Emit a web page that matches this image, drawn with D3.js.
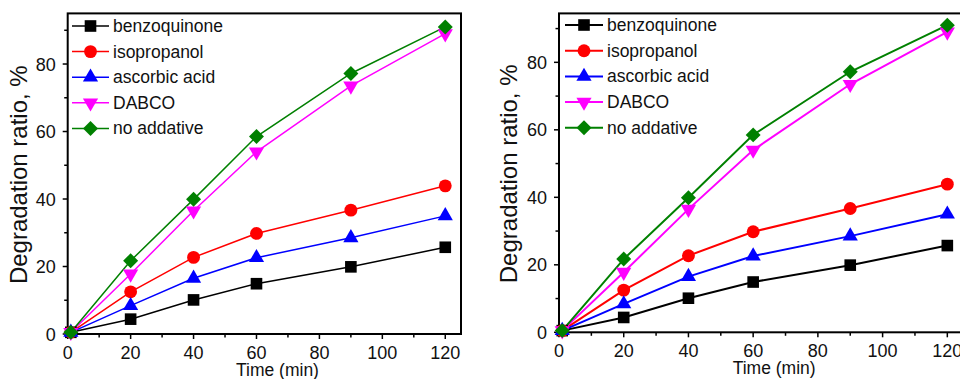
<!DOCTYPE html>
<html>
<head>
<meta charset="utf-8">
<script src="https://cdn.jsdelivr.net/npm/d3@7"></script>
<style>
  html, body { margin: 0; padding: 0; background: #fff; }
  svg { display: block; font-family: "Liberation Sans", Arial, sans-serif; }
</style>
</head>
<body>
<svg id="chart" width="960" height="379"></svg>
<script>
// data
const times = [1, 20, 40, 60, 90, 120];
const benzoquinone = [0.5, 4.4, 10.1, 14.9, 19.9, 25.7];
const isopropanol = [0.5, 12.5, 22.7, 29.8, 36.7, 43.9];
const ascorbicAcid = [0.5, 8.4, 16.5, 22.6, 28.5, 35.0];
const dabco = [0.5, 17.8, 36.5, 54.0, 73.5, 89.0];
const noAdditive = [0.5, 21.7, 39.9, 58.5, 77.2, 91.0];

const seriesNames = ['benzoquinone', 'isopropanol', 'ascorbic acid', 'DABCO', 'no addative'];
const seriesValues = [benzoquinone, isopropanol, ascorbicAcid, dabco, noAdditive];
const seriesColors = ['#000000', '#ff0000', '#0000ff', '#ff00ff', '#008000'];
const seriesShapes = ['square', 'circle', 'triangle', 'triangleDown', 'diamond'];

const xTicks = [0, 20, 40, 60, 80, 100, 120];
const xMinor = [10, 30, 50, 70, 90, 110];
const yTicks = [0, 20, 40, 60, 80];
const yMinor = [10, 30, 50, 70, 90];

const svg = d3.select('#chart');

// symbol path + extra rotation for each marker shape
const shapeDef = {
  square: { type: d3.symbolSquare, size: 135, rot: 0 },
  circle: { type: d3.symbolCircle, size: 130, rot: 0 },
  triangle: { type: d3.symbolTriangle, size: 100, rot: 0 },
  triangleDown: { type: d3.symbolTriangle, size: 100, rot: 180 },
  diamond: { type: d3.symbolSquare, size: 112, rot: 45 }
};

function placeMarker(sel, shape, cx, cy) {
  const s = shapeDef[shape];
  sel.attr('d', d3.symbol().type(s.type).size(s.size)())
    .attr('transform', `translate(${cx},${cy})` + (s.rot ? ` rotate(${s.rot})` : ''));
}

function drawPanel(p) {
  const x = d3.scaleLinear().domain([0, 125]).range([p.left, p.right]);
  const y = d3.scaleLinear().domain([0, p.yMax]).range([p.bottom, p.top]);
  const g = svg.append('g');

  // frame
  g.append('rect')
    .attr('x', x(0)).attr('y', y(p.yMax))
    .attr('width', x(125) - x(0)).attr('height', y(0) - y(p.yMax))
    .attr('fill', 'none').attr('stroke', '#000').attr('stroke-width', 2);

  // x axis ticks
  g.selectAll('.xt').data(xTicks).enter().append('line')
    .attr('x1', d => x(d)).attr('x2', d => x(d))
    .attr('y1', y(0)).attr('y2', y(0) + 5)
    .attr('stroke', '#000').attr('stroke-width', 1.5);
  g.selectAll('.xm').data(xMinor).enter().append('line')
    .attr('x1', d => x(d)).attr('x2', d => x(d))
    .attr('y1', y(0)).attr('y2', y(0) + 3.5)
    .attr('stroke', '#000').attr('stroke-width', 1.5);
  g.selectAll('.xl').data(xTicks).enter().append('text')
    .attr('x', d => x(d)).attr('y', y(0) + 25)
    .attr('text-anchor', 'middle').attr('font-size', 18).attr('fill', '#111')
    .text(d => d);

  // y axis ticks
  g.selectAll('.yt').data(yTicks).enter().append('line')
    .attr('x1', x(0) - 5).attr('x2', x(0))
    .attr('y1', d => y(d)).attr('y2', d => y(d))
    .attr('stroke', '#000').attr('stroke-width', 1.5);
  g.selectAll('.ym').data(yMinor).enter().append('line')
    .attr('x1', x(0) - 3.5).attr('x2', x(0))
    .attr('y1', d => y(d)).attr('y2', d => y(d))
    .attr('stroke', '#000').attr('stroke-width', 1.5);
  g.selectAll('.yl').data(yTicks).enter().append('text')
    .attr('x', x(0) - 12).attr('y', d => y(d) + 6.5)
    .attr('text-anchor', 'end').attr('font-size', 18).attr('fill', '#111')
    .text(d => d);

  // axis titles
  g.append('text')
    .attr('x', x(60) + 21).attr('y', y(0) + 42)
    .attr('text-anchor', 'middle').attr('font-size', 17.5).attr('fill', '#111')
    .text('Time (min)');
  g.append('text')
    .attr('transform', `translate(${p.yTitleX},${(y(0) + y(p.yMax)) / 2 + 1}) rotate(-90)`)
    .attr('text-anchor', 'middle').attr('font-size', 24).attr('fill', '#111')
    .text('Degradation ratio, %');

  // lines
  const line = d3.line().x((d, i) => x(times[i])).y(d => y(d));
  seriesValues.forEach((vals, k) => {
    g.append('path').datum(vals)
      .attr('fill', 'none').attr('stroke', seriesColors[k])
      .attr('stroke-width', p.lw).attr('d', line);
  });
  // markers
  seriesValues.forEach((vals, k) => {
    g.selectAll('.m' + k).data(vals).enter().append('path')
      .each(function (d, i) { placeMarker(d3.select(this), seriesShapes[k], x(times[i]), y(d)); })
      .attr('fill', seriesColors[k]);
  });

  // legend
  const leg = g.append('g');
  seriesNames.forEach((name, k) => {
    const ly = p.legTop + k * p.legStep;
    leg.append('line')
      .attr('x1', p.legX).attr('x2', p.legX + p.legLen)
      .attr('y1', ly).attr('y2', ly)
      .attr('stroke', seriesColors[k]).attr('stroke-width', p.lw);
    leg.append('path')
      .call(sel => placeMarker(sel, seriesShapes[k], p.legX + p.legLen / 2, ly))
      .attr('fill', seriesColors[k]);
    leg.append('text')
      .attr('x', p.legX + p.legLen + 4).attr('y', ly + 6)
      .attr('font-size', 17.5).attr('fill', '#111')
      .text(name);
  });
}

drawPanel({ left: 67.7, right: 461, bottom: 334, top: 13.4, yMax: 95, lw: 1.5,
  yTitleX: 27, legX: 72, legLen: 37, legTop: 26, legStep: 25.6 });
drawPanel({ left: 559, right: 963.5, bottom: 332.3, top: 13.4, yMax: 94.5, lw: 2,
  yTitleX: 517, legX: 565, legLen: 38, legTop: 25, legStep: 25.7 });
</script>
</body>
</html>
